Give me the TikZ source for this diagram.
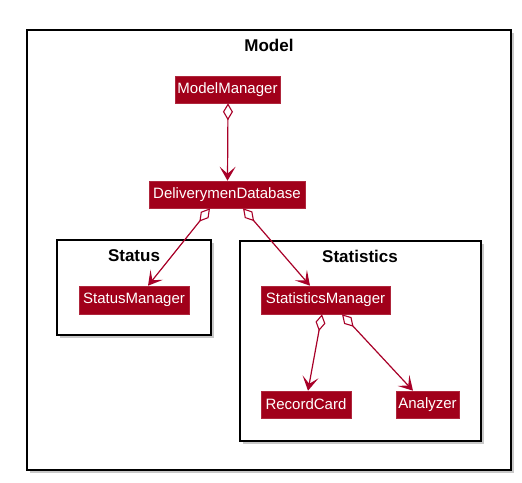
\documentclass[tikz,border=0pt]{standalone}
\usepackage{fontspec}
\setmainfont{Liberation Sans}
\usetikzlibrary{arrows.meta}
\definecolor{umlred}{RGB}{161,0,26}
\definecolor{umlline}{RGB}{168,0,40}
\definecolor{shadowgray}{RGB}{200,200,200}
\tikzset{
  cls/.style={rectangle, fill=umlred, draw=umlred!85!white, line width=0.6pt, text=white, inner sep=0pt, font=\fontsize{15}{15}\selectfont},
  frame/.style={draw=black, line width=1.4pt, fill=white},
  fshadow/.style={fill=shadowgray},
  ftitle/.style={font=\fontsize{17}{17}\selectfont\bfseries, inner sep=0pt},
  agg/.style={draw=umlline, line width=1.2pt,
    {Diamond[open, fill=white, length=17pt, width=10pt, line width=1.1pt]}-{Stealth[length=14pt, width=16pt, inset=7pt, line width=1.6pt]}},
}
\begin{document}
\begin{tikzpicture}[x=1pt, y=-1pt]
\useasboundingbox (0,0) rectangle (522,482);
% frames
\fill[fshadow] (29.5,32.5) rectangle (513.5,472.5);
\draw[frame] (27,30) rectangle (511,470);
\node[ftitle] (tmodel) at (269,45) {Model};
\fill[fshadow] (59.5,242.5) rectangle (213.5,337.5);
\draw[frame] (57,240) rectangle (211,335);
\node[ftitle] (tstatus) at (134,256) {Status};
\fill[fshadow] (242.5,243.5) rectangle (483.5,443.5);
\draw[frame] (240,241) rectangle (481,441);
\node[ftitle] (tstat) at (360,256) {Statistics};
% classes
\node[cls, minimum width=105pt, minimum height=27pt] (mm) at (227.5,89.5) {ModelManager};
\node[cls, minimum width=156pt, minimum height=27pt] (dd) at (227,194.5) {DeliverymenDatabase};
\node[cls, minimum width=110pt, minimum height=28pt] (stm) at (134,300) {StatusManager};
\node[cls, minimum width=129pt, minimum height=28pt] (sm) at (325.5,300) {StatisticsManager};
\node[cls, minimum width=90pt, minimum height=27pt] (rc) at (306,404.5) {RecordCard};
\node[cls, minimum width=63pt, minimum height=27pt] (an) at (427.5,404.5) {Analyzer};
% connectors
\draw[agg] ([xshift=0.5pt]mm.south) -- (mm.south |- dd.north);
\draw[agg] ([xshift=-17pt]dd.south) -- ([xshift=14pt]stm.north);
\draw[agg] ([xshift=16pt]dd.south) -- ([xshift=-15.5pt]sm.north);
\draw[agg] ([xshift=-3.5pt]sm.south) -- ([xshift=2pt]rc.north);
\draw[agg] ([xshift=16.5pt]sm.south) -- ([xshift=-14.5pt]an.north);
\end{tikzpicture}
\end{document}
